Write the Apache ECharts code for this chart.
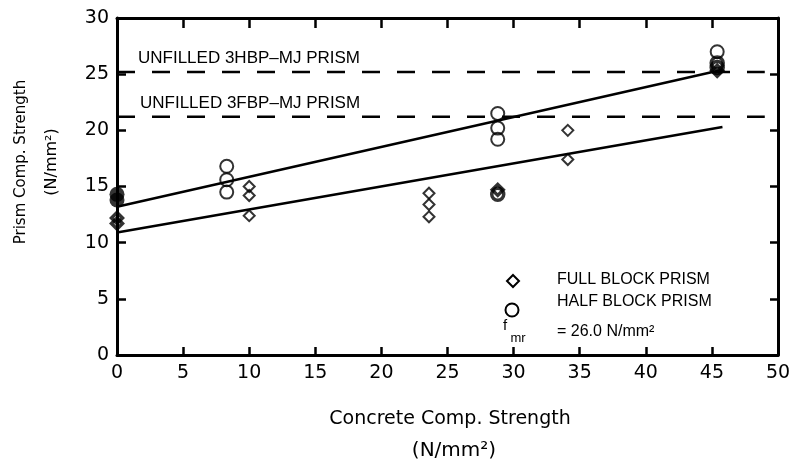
<!DOCTYPE html>
<html>
<head>
<meta charset="utf-8">
<script src="https://cdn.jsdelivr.net/npm/echarts@6/dist/echarts.min.js"></script>
<style>
  html, body { margin: 0; padding: 0; background: #fff; }
  #chart { width: 793px; height: 464px; }
</style>
</head>
<body>
<div id="chart"></div>
<script>
// Axis ticks
const xTickValues = [0, 5, 10, 15, 20, 25, 30, 35, 40, 45, 50];
const yTickValues = [0, 5, 10, 15, 20, 25, 30];

// Half block prisms: [concrete strength, prism strength] (N/mm2)
const halfBlock = [
  [8.3, 16.8], [8.3, 15.6], [8.3, 14.5],
  [28.8, 21.5], [28.8, 20.2], [28.8, 19.2],
  [45.4, 27.0]
];
// Half block results that coincide and pile up on one spot
const halfBlockPiled = [[28.8, 14.3], [45.4, 26.0], [45.4, 25.6]];
// Hollow (unfilled) half block prisms, no concrete
const halfBlockUnfilled = [[0, 14.3], [0, 13.8]];

// Full block prisms
const fullBlock = [
  [10.0, 15.0], [10.0, 14.2], [10.0, 12.4],
  [23.6, 14.4], [23.6, 13.4], [23.6, 12.3],
  [34.1, 20.0], [34.1, 17.4]
];
const fullBlockPiled = [[0, 12.2], [0, 11.7], [28.8, 14.7], [45.4, 25.3]];

// Fitted lines (end points)
const halfBlockFit = [[0, 13.2], [45.8, 25.4]];
const fullBlockFit = [[0, 10.9], [45.8, 20.3]];

// Unfilled 3-course prism strengths shown as reference levels
const refLabels = ['UNFILLED 3HBP\u2013MJ PRISM', 'UNFILLED 3FBP\u2013MJ PRISM'];
const refLevels = [25.2, 21.2];
const refSpan = [0, 49];

const INK = '#000';
const tickFont = 'DejaVu Sans';
const noteFont = 'Liberation Sans';

const chart = echarts.init(document.getElementById('chart'), null, { renderer: 'canvas' });

function frameAxis(pos, showLabel, tickLen, isX) {
  const vals = isX ? xTickValues : yTickValues;
  return {
    type: 'value',
    position: pos,
    min: vals[0],
    max: vals[vals.length - 1],
    interval: vals[1] - vals[0],
    axisLine: { show: true, onZero: false, lineStyle: { color: INK, width: 3 } },
    axisTick: { show: true, inside: true, length: tickLen, lineStyle: { color: INK, width: 2.5 } },
    axisLabel: {
      show: showLabel, color: INK, fontSize: 19, fontFamily: tickFont,
      margin: isX ? 9 : 8
    },
    splitLine: { show: false }
  };
}

const openCircle = { color: 'transparent', borderColor: INK, borderWidth: 2 };
const pileStyle = { color: 'transparent', borderColor: INK, borderWidth: 3.5 };

const series = [];
refLevels.forEach(function (lv) {
  series.push({
    type: 'line', silent: true, symbol: 'none', z: 2,
    data: refSpan.map(function (x) { return [x, lv]; }),
    lineStyle: { color: INK, width: 2.5, type: [18, 17] }
  });
});
[halfBlockFit, fullBlockFit].forEach(function (fit) {
  series.push({
    type: 'line', silent: true, symbol: 'none', z: 3,
    data: fit,
    lineStyle: { color: INK, width: 2.5 }
  });
});
series.push(
  { type: 'scatter', z: 5, data: halfBlock, symbol: 'circle', symbolSize: 13, itemStyle: openCircle },
  { type: 'scatter', z: 5, data: halfBlockPiled, symbol: 'circle', symbolSize: 12, itemStyle: pileStyle },
  { type: 'scatter', z: 5, data: halfBlockUnfilled, symbol: 'circle', symbolSize: 15, itemStyle: { color: INK } },
  { type: 'scatter', z: 5, data: fullBlock, symbol: 'diamond', symbolSize: [11, 11], itemStyle: openCircle },
  { type: 'scatter', z: 5, data: fullBlockPiled, symbol: 'diamond', symbolSize: [11, 11], itemStyle: pileStyle }
);

const graphic = [
  // axis titles
  { type: 'text', x: 450, y: 419, style: { text: 'Concrete Comp. Strength', font: '19px "DejaVu Sans"', fill: INK, align: 'center', verticalAlign: 'middle' } },
  { type: 'text', x: 454, y: 451, style: { text: '(N/mm\u00B2)', font: '20px "DejaVu Sans"', fill: INK, align: 'center', verticalAlign: 'middle' } },
  { type: 'text', x: 21, y: 162, rotation: Math.PI / 2, style: { text: 'Prism Comp. Strength', font: '15px "DejaVu Sans"', fill: INK, align: 'center', verticalAlign: 'middle' } },
  { type: 'text', x: 52, y: 162, rotation: Math.PI / 2, style: { text: '(N/mm\u00B2)', font: '16px "DejaVu Sans"', fill: INK, align: 'center', verticalAlign: 'middle' } },
  // reference level labels
  { type: 'text', x: 138, y: 58, style: { text: refLabels[0], font: '17px "' + noteFont + '"', fill: INK, align: 'left', verticalAlign: 'middle' } },
  { type: 'text', x: 140, y: 103, style: { text: refLabels[1], font: '17px "' + noteFont + '"', fill: INK, align: 'left', verticalAlign: 'middle' } },
  // key
  { type: 'polygon', shape: { points: [[513, 275], [519, 281], [513, 287], [507, 281]] }, style: { fill: 'none', stroke: INK, lineWidth: 2 } },
  { type: 'circle', shape: { cx: 512, cy: 310, r: 6.5 }, style: { fill: 'none', stroke: INK, lineWidth: 2 } },
  { type: 'text', x: 557, y: 280, style: { text: 'FULL BLOCK PRISM', font: '16px "' + noteFont + '"', fill: INK, align: 'left', verticalAlign: 'middle' } },
  { type: 'text', x: 557, y: 302, style: { text: 'HALF BLOCK PRISM', font: '16px "' + noteFont + '"', fill: INK, align: 'left', verticalAlign: 'middle' } },
  { type: 'text', x: 505, y: 326, style: { text: 'f', font: '15px "' + noteFont + '"', fill: INK, align: 'center', verticalAlign: 'middle' } },
  { type: 'text', x: 518, y: 338, style: { text: 'mr', font: '13px "' + noteFont + '"', fill: INK, align: 'center', verticalAlign: 'middle' } },
  { type: 'text', x: 557, y: 332, style: { text: '= 26.0 N/mm\u00B2', font: '16px "' + noteFont + '"', fill: INK, align: 'left', verticalAlign: 'middle' } }
];

chart.setOption({
  animation: false,
  backgroundColor: '#fff',
  grid: { left: 117, right: 15, top: 18, bottom: 109, containLabel: false, outerBoundsMode: 'none' },
  xAxis: [frameAxis('bottom', true, 8, true), frameAxis('top', false, 10, true)],
  yAxis: [frameAxis('left', true, 9, false), frameAxis('right', false, 8, false)],
  series: series,
  graphic: graphic
});
</script>
</body>
</html>
